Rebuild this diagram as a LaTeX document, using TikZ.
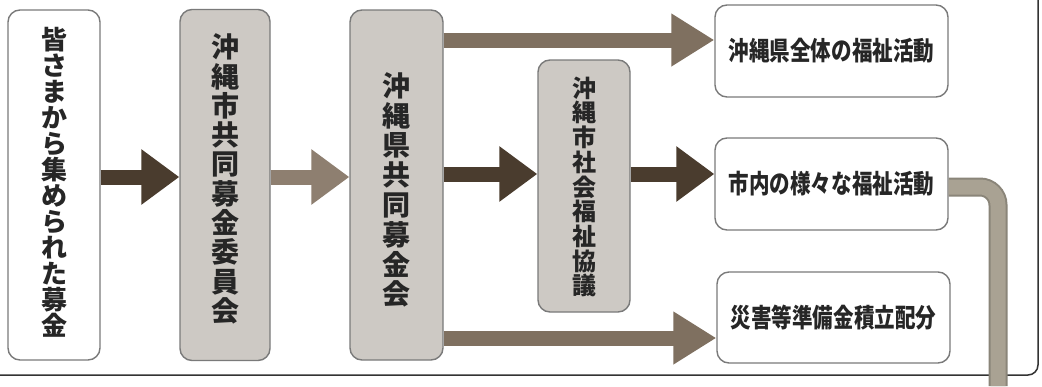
\documentclass[tikz,border=0pt]{standalone}
\usepackage{fontspec}
\usetikzlibrary{arrows.meta}
\newfontfamily\jp{Noto Sans CJK JP}
\newfontfamily\jpn[FakeStretch=0.79]{Noto Sans CJK JP}
\definecolor{boxline}{HTML}{7A7A7A}
\definecolor{boxgray}{HTML}{CDC9C4}
\definecolor{darkarr}{HTML}{4A3C2E}
\definecolor{midarr}{HTML}{7F7060}
\definecolor{lightarr}{HTML}{8E7F70}
\definecolor{conn}{HTML}{A9A293}
\definecolor{frame}{HTML}{333333}
\definecolor{txt}{HTML}{262626}
\tikzset{
  box/.style={draw=boxline, line width=1.4pt, rounded corners=12pt, inner sep=0pt, align=center, text=txt},
  whitebox/.style={box, fill=white},
  graybox/.style={box, fill=boxgray},
  vtext/.style={inner sep=0pt, align=center, text=txt},
  bigarrow/.style={line width=15pt, -{Triangle[length=38pt, width=53pt]}},
}
\begin{document}
\begin{tikzpicture}[x=1pt,y=-1pt]
\useasboundingbox (0,0) rectangle (1042,386);
\fill[white] (0,0) rectangle (1042,386);
% frame
\draw[frame, line width=1.5pt, rounded corners=10pt] (0,375) -- (1038,375) -- (1038,-2);
% boxes
\node[whitebox, minimum width=92pt, minimum height=350pt] (b1) at (54,185) {};
\node[graybox, minimum width=90pt, minimum height=351pt] (b2) at (225,185) {};
\node[graybox, minimum width=93pt, minimum height=350pt] (b3) at (396.5,185) {};
\node[graybox, minimum width=92pt, minimum height=252pt] (b4) at (584,186) {};
\node[whitebox, minimum width=233pt, minimum height=92pt, font=\jpn\bfseries\fontsize{26}{30}\selectfont] (b5) at (831.5,51)
  {沖縄県全体の福祉活動};
\node[whitebox, minimum width=233pt, minimum height=92pt, font=\jpn\bfseries\fontsize{26}{30}\selectfont] (b6) at (831.5,184)
  {市内の様々な福祉活動};
\node[whitebox, minimum width=233pt, minimum height=91pt, font=\jpn\bfseries\fontsize{26}{30}\selectfont] (b7) at (833.5,317.5)
  {災害等準備金積立配分};
% vertical texts
\node[vtext, font=\jp\bfseries\fontsize{26}{26}\selectfont] (t1) at (54,182)
  {皆\\さ\\ま\\か\\ら\\集\\め\\ら\\れ\\た\\募\\金};
\node[vtext, font=\jp\bfseries\fontsize{28}{29.3}\selectfont] (t2) at (225,179)
  {沖\\縄\\市\\共\\同\\募\\金\\委\\員\\会};
\node[vtext, font=\jp\bfseries\fontsize{28}{29.8}\selectfont] (t3) at (396.5,190)
  {沖\\縄\\県\\共\\同\\募\\金\\会};
\node[vtext, font=\jp\bfseries\fontsize{24}{24.7}\selectfont] (t4) at (584,187)
  {沖\\縄\\市\\社\\会\\福\\祉\\協\\議};
% helper coordinates
\coordinate (ya) at (0,177);
\coordinate (yb) at (0,174);
\coordinate (yt) at (0,40);
\coordinate (ym) at (0,338);
\coordinate (yc) at (0,187);
\coordinate (cend) at (998,386);
% arrows
\draw[bigarrow, darkarr] (b1.east |- ya) -- (b2.west |- ya);
\draw[bigarrow, lightarr] (b2.east |- ya) -- (b3.west |- ya);
\draw[bigarrow, darkarr] (b3.east |- yb) -- (b4.west |- yb);
\draw[bigarrow, darkarr] (b4.east |- yb) -- (b6.west |- yb);
\draw[bigarrow, midarr, -{Triangle[length=43pt, width=50pt]}] (b3.east |- yt) -- (b5.west |- yt);
\draw[bigarrow, midarr, -{Triangle[length=43pt, width=50pt]}] (b3.east |- ym) -- (b7.west |- ym);
% connector to the bottom
\draw[conn!82!black, line width=19pt, rounded corners=18pt] (b6.east |- yc) -- (cend |- yc) -- (cend);
\draw[conn, line width=15pt, rounded corners=18pt] (b6.east |- yc) -- (cend |- yc) -- (cend);
\end{tikzpicture}
\end{document}
